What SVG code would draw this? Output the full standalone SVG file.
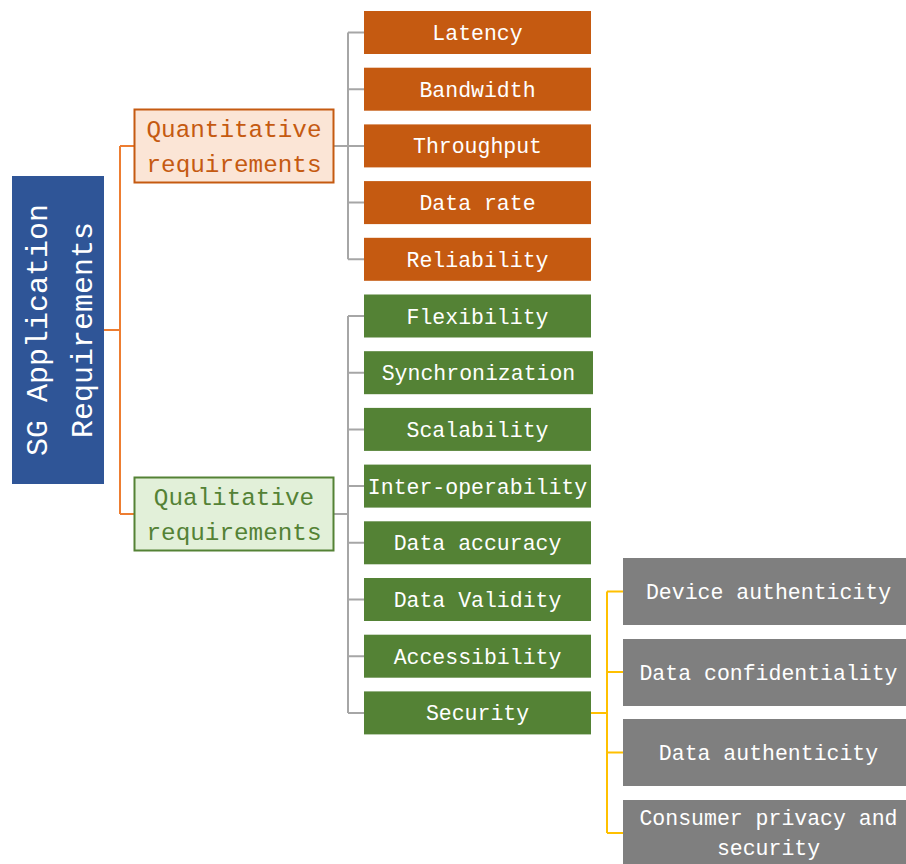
<svg xmlns="http://www.w3.org/2000/svg" width="906" height="864" viewBox="0 0 906 864">
<style>
text{font-family:"Liberation Mono","DejaVu Sans Mono",monospace;text-anchor:middle}
.leaf{font-size:21.5px;fill:#ffffff}
.or{fill:#C55A11}
.gr{fill:#548235}
.gy{fill:#7F7F7F}
.cg{stroke:#A6A6A6;stroke-width:2;fill:none}
.co{stroke:#ED7D31;stroke-width:2;fill:none}
.cy{stroke:#FFC000;stroke-width:2;fill:none}
.mid{font-size:24.3px}
</style>
<g id="connectors">
<path class="co" d="M104 330H120M120 146V514M120 146H134M120 514H134"/>
<path class="cg" d="M333 146H348M348 32.5V259.3M348 32.5H364M348 89.2H364M348 145.9H364M348 202.6H364M348 259.3H364"/>
<path class="cg" d="M333 514H348M348 316V712.9M348 316H364M348 372.7H364M348 429.4H364M348 486.1H364M348 542.8H364M348 599.5H364M348 656.2H364M348 712.9H364"/>
<path class="cy" d="M591 712.9H607M607 591.5V833M607 591.5H623M607 672H623M607 752.5H623M607 833H623"/>
</g>
<g id="root">
<rect x="12" y="176" width="92" height="308" fill="#2F5597"/>
<g transform="translate(58,330) rotate(-90)">
<text x="0" y="-11" style="font-size:30px" fill="#ffffff">SG Application</text>
<text x="0" y="34" style="font-size:30px" fill="#ffffff">Requirements</text>
</g>
</g>
<g id="quantitative">
<rect x="134.5" y="109.5" width="199" height="73" fill="#FBE5D6" stroke="#C55A11" stroke-width="2"/>
<text class="mid" x="234" y="137" fill="#C55A11">Quantitative</text>
<text class="mid" x="234" y="172" fill="#C55A11">requirements</text>
</g>
<g id="qualitative">
<rect x="134.5" y="477.5" width="199" height="73" fill="#E2F0D9" stroke="#548235" stroke-width="2"/>
<text class="mid" x="234" y="505" fill="#548235">Qualitative</text>
<text class="mid" x="234" y="540" fill="#548235">requirements</text>
</g>
<g id="latency"><rect class="or" x="364" y="11" width="227" height="43"/><text class="leaf" x="477.5" y="40">Latency</text></g>
<g id="bandwidth"><rect class="or" x="364" y="67.7" width="227" height="43"/><text class="leaf" x="477.5" y="96.7">Bandwidth</text></g>
<g id="throughput"><rect class="or" x="364" y="124.4" width="227" height="43"/><text class="leaf" x="477.5" y="153.4">Throughput</text></g>
<g id="datarate"><rect class="or" x="364" y="181.1" width="227" height="43"/><text class="leaf" x="477.5" y="210.1">Data rate</text></g>
<g id="reliability"><rect class="or" x="364" y="237.8" width="227" height="43"/><text class="leaf" x="477.5" y="266.8">Reliability</text></g>
<g id="flexibility"><rect class="gr" x="364" y="294.5" width="227" height="43"/><text class="leaf" x="477.5" y="323.5">Flexibility</text></g>
<g id="synchronization"><rect class="gr" x="364" y="351.2" width="229" height="43"/><text class="leaf" x="478.5" y="380.2">Synchronization</text></g>
<g id="scalability"><rect class="gr" x="364" y="407.9" width="227" height="43"/><text class="leaf" x="477.5" y="436.9">Scalability</text></g>
<g id="interoperability"><rect class="gr" x="364" y="464.6" width="227" height="43"/><text class="leaf" x="477.5" y="493.6">Inter-operability</text></g>
<g id="dataaccuracy"><rect class="gr" x="364" y="521.3" width="227" height="43"/><text class="leaf" x="477.5" y="550.3">Data accuracy</text></g>
<g id="datavalidity"><rect class="gr" x="364" y="578" width="227" height="43"/><text class="leaf" x="477.5" y="607">Data Validity</text></g>
<g id="accessibility"><rect class="gr" x="364" y="634.7" width="227" height="43"/><text class="leaf" x="477.5" y="663.7">Accessibility</text></g>
<g id="security"><rect class="gr" x="364" y="691.4" width="227" height="43"/><text class="leaf" x="477.5" y="720.4">Security</text></g>
<g id="deviceauth"><rect class="gy" x="623" y="558" width="290" height="67"/><text class="leaf" x="768.5" y="599">Device authenticity</text></g>
<g id="dataconf"><rect class="gy" x="623" y="639" width="290" height="67"/><text class="leaf" x="768.5" y="680">Data confidentiality</text></g>
<g id="dataauth"><rect class="gy" x="623" y="719" width="290" height="67"/><text class="leaf" x="768.5" y="760">Data authenticity</text></g>
<g id="privacy"><rect class="gy" x="623" y="800" width="290" height="70"/><text class="leaf" x="768.5" y="825">Consumer privacy and</text><text class="leaf" x="768.5" y="855">security</text></g>
</svg>
